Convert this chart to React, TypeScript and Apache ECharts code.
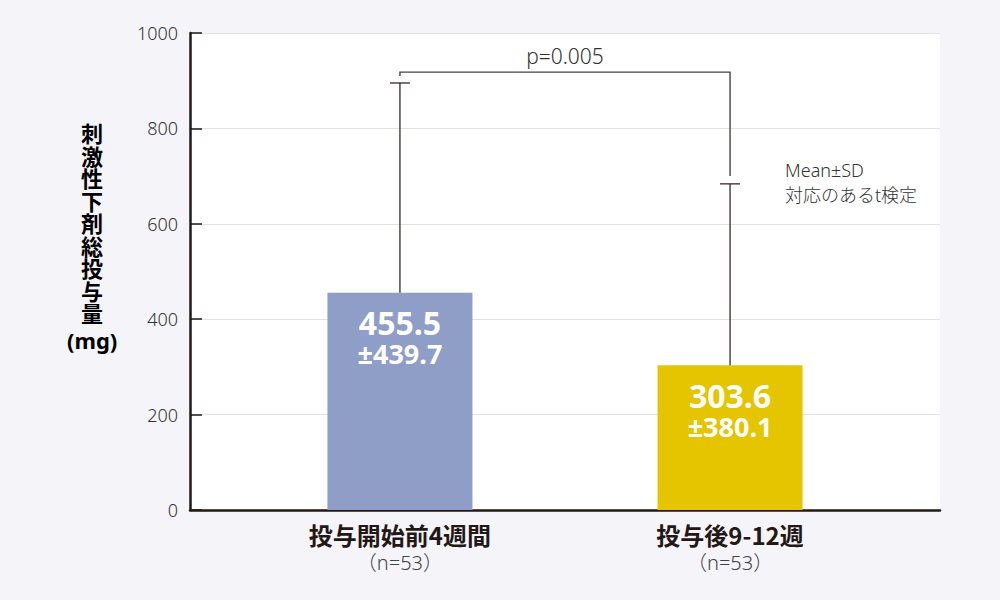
import { useRef, useEffect } from "react";
import * as echarts from "echarts";

// data
const categories = ["投与開始前4週間", "投与後9-12週"];
const sampleSizes = ["（n=53）", "（n=53）"];
const means = [455.5, 303.6];
const sds = [439.7, 380.1];
const barColors = ["#8f9ec6", "#e5c400"];
const yMin = 0;
const yMax = 1000;
const yInterval = 200;
const yTitleChars = ["刺", "激", "性", "下", "剤", "総", "投", "与", "量"];
const yTitleUnit = "(mg)";
const pValueLabel = "p=0.005";
const bracketLevel = 918;
const notes = ["Mean±SD", "対応のあるt検定"];

const FONT = '"Noto Sans", "Noto Sans CJK JP", sans-serif';
const CJK = '"Noto Sans CJK JP", "Noto Sans", sans-serif';
const DARK = "#231815";

function App() {
    const chartRef = useRef<HTMLDivElement | null>(null);

    useEffect(() => {
        if (!chartRef.current) return;
        const chart = echarts.init(chartRef.current, undefined, { renderer: "svg" });

        chart.setOption({
            animation: false,
            backgroundColor: "#f4f4f9",
            textStyle: { fontFamily: FONT },
            grid: {
                left: 190,
                right: 60,
                top: 33,
                bottom: 90,
                show: true,
                backgroundColor: "#ffffff",
                borderWidth: 0,
            },
            xAxis: {
                type: "value",
                min: -0.636,
                max: 1.636,
                splitLine: { show: false },
                axisTick: { show: false },
                axisLine: { show: true, onZero: false, lineStyle: { color: DARK, width: 2.5 } },
                axisLabel: {
                    customValues: categories.map((_, i) => i),
                    margin: 9,
                    formatter: (v: number) => {
                        const i = Math.round(v);
                        return `{b|${categories[i]}}\n{n|${sampleSizes[i]}}`;
                    },
                    rich: {
                        b: { fontSize: 24, fontWeight: "bold", color: DARK, lineHeight: 30, fontFamily: CJK },
                        n: { fontSize: 20, color: "#444", lineHeight: 27, fontWeight: 300, fontFamily: FONT },
                    },
                },
            },
            yAxis: {
                type: "value",
                min: yMin,
                max: yMax,
                interval: yInterval,
                axisLine: { show: true, onZero: false, lineStyle: { color: DARK, width: 2.5 } },
                axisTick: { show: true, inside: true, length: 12, lineStyle: { color: DARK, width: 1.5 } },
                axisLabel: {
                    fontSize: 18,
                    color: "#333",
                    margin: 12,
                    fontFamily: FONT,
                    fontWeight: 300,
                    formatter: (v: number) => String(v),
                },
                splitLine: { show: true, lineStyle: { color: "#dde3ea", width: 1 } },
            },
            graphic: [
                {
                    type: "text",
                    left: 85 - 18,
                    top: 121,
                    style: {
                        text: yTitleChars.map((c) => `{c|${c}}`).join("\n") + `\n{m|${yTitleUnit}}`,
                        align: "center",
                        rich: {
                            c: { fontSize: 22, fontWeight: "bold", color: DARK, lineHeight: 22.5, fontFamily: CJK, width: 36, align: "center" },
                            m: { fontSize: 22, fontWeight: "bold", color: DARK, lineHeight: 34, fontFamily: FONT, width: 36, align: "center" },
                        },
                    },
                },
                {
                    type: "text",
                    left: 785,
                    top: 157,
                    style: {
                        text: notes.join("\n"),
                        fontSize: 18,
                        lineHeight: 25,
                        fill: "#333",
                        fontFamily: FONT,
                        fontWeight: 300,
                    },
                },
            ],
            series: [
                {
                    type: "bar",
                    barWidth: 145,
                    data: means.map((m, i) => ({ value: [i, m], itemStyle: { color: barColors[i] } })),
                    label: {
                        show: true,
                        position: "insideTop",
                        distance: 13,
                        formatter: (p: any) => {
                            const i = p.dataIndex;
                            return `{v|${means[i].toFixed(1)}}\n{s|±${sds[i].toFixed(1)}}`;
                        },
                        rich: {
                            v: { fontSize: 32, fontWeight: "bold", color: "#fff", lineHeight: 34, fontFamily: FONT },
                            s: { fontSize: 27, fontWeight: "bold", color: "#fff", lineHeight: 28, fontFamily: FONT },
                        },
                    },
                    z: 2,
                },
                {
                    type: "custom",
                    data: means.map((m, i) => [i, m, sds[i]]),
                    z: 3,
                    renderItem: (_params: any, api: any) => {
                        const x = api.value(0);
                        const m = api.value(1);
                        const sd = api.value(2);
                        const base = api.coord([x, m]);
                        const top = api.coord([x, m + sd]);
                        const style = { stroke: DARK, lineWidth: 1.2 };
                        return {
                            type: "group",
                            children: [
                                { type: "line", shape: { x1: base[0], y1: base[1], x2: top[0], y2: top[1] }, style },
                                { type: "line", shape: { x1: top[0] - 10, y1: top[1], x2: top[0] + 10, y2: top[1] }, style },
                            ],
                        };
                    },
                },
                {
                    type: "custom",
                    data: [[0, 1, bracketLevel]],
                    z: 3,
                    renderItem: (_params: any, api: any) => {
                        const a = api.value(0);
                        const b = api.value(1);
                        const lvl = api.value(2);
                        const pa = api.coord([a, lvl]);
                        const pb = api.coord([b, lvl]);
                        const ea = api.coord([a, means[a] + sds[a]]);
                        const eb = api.coord([b, means[b] + sds[b]]);
                        return {
                            type: "group",
                            children: [
                                {
                                    type: "polyline",
                                    shape: {
                                        points: [
                                            [pa[0], ea[1] - 7],
                                            [pa[0], pa[1]],
                                            [pb[0], pb[1]],
                                            [pb[0], eb[1] - 8],
                                        ],
                                    },
                                    style: { stroke: "#444", lineWidth: 1.4, fill: "none" },
                                },
                                {
                                    type: "text",
                                    x: (pa[0] + pb[0]) / 2,
                                    y: pa[1] - 6,
                                    style: {
                                        text: pValueLabel,
                                        align: "center",
                                        verticalAlign: "bottom",
                                        fontSize: 21,
                                        fill: "#333",
                                        fontFamily: FONT,
                                        fontWeight: 300,
                                    },
                                },
                            ],
                        };
                    },
                },
            ],
        });

        return () => {
            chart.dispose();
        };
    }, []);

    return (
        <div
            ref={chartRef}
            style={{ position: "fixed", left: 0, top: 0, width: "1000px", height: "600px" }}
        />
    );
}

export default App;
